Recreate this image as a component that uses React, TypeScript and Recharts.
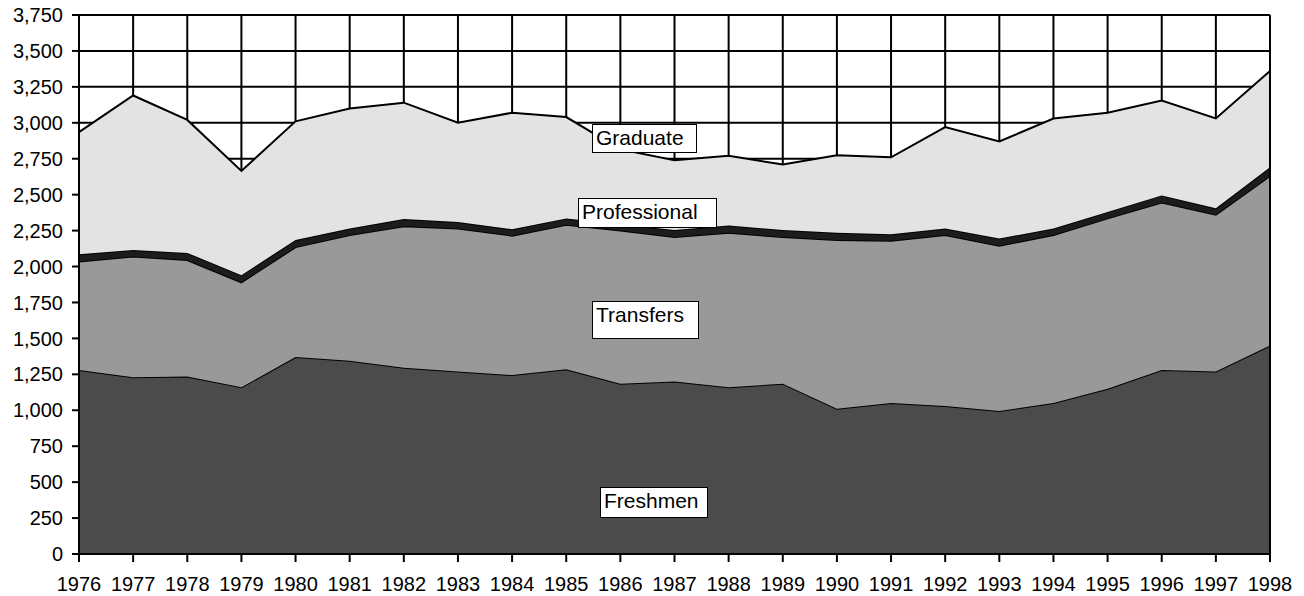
import {
  AreaChart,
  Area,
  XAxis,
  YAxis,
  CartesianGrid,
  ReferenceLine,
} from "recharts";

const years = [
  "1976", "1977", "1978", "1979", "1980", "1981", "1982", "1983",
  "1984", "1985", "1986", "1987", "1988", "1989", "1990", "1991",
  "1992", "1993", "1994", "1995", "1996", "1997", "1998",
];

const freshmen = [
  1280, 1230, 1235, 1160, 1370, 1345, 1295, 1270, 1245, 1285, 1185, 1200,
  1160, 1185, 1010, 1050, 1030, 995, 1050, 1150, 1280, 1270, 1450,
];
const transfers = [
  755, 840, 810, 730, 765, 875, 985, 995, 970, 1005, 1065, 1005, 1075, 1020,
  1175, 1130, 1190, 1150, 1170, 1185, 1165, 1090, 1180,
];
const professional = [
  50, 45, 50, 50, 50, 45, 50, 45, 45, 45, 45, 50, 50, 50, 50, 45, 45, 50, 45,
  45, 50, 45, 60,
];
const graduate = [
  850, 1075, 925, 725, 825, 835, 810, 690, 810, 705, 520, 485, 485, 455, 540,
  535, 705, 675, 765, 690, 660, 625, 670,
];

const yTicks = [
  0, 250, 500, 750, 1000, 1250, 1500, 1750, 2000, 2250, 2500, 2750, 3000,
  3250, 3500, 3750,
];

const series = [
  { key: "Freshmen", color: "#4b4b4b" },
  { key: "Transfers", color: "#999999" },
  { key: "Professional", color: "#1c1c1c" },
  { key: "Graduate", color: "#e3e3e3" },
];

const labels = [
  { text: "Graduate", left: 592, top: 124, width: 105, height: 29 },
  { text: "Professional", left: 578, top: 198, width: 139, height: 30 },
  { text: "Transfers", left: 592, top: 301, width: 107, height: 38 },
  { text: "Freshmen", left: 600, top: 487, width: 108, height: 31 },
];

const data = years.map((year, i) => ({
  year,
  Freshmen: freshmen[i],
  Transfers: transfers[i],
  Professional: professional[i],
  Graduate: graduate[i],
}));

const font = "'Liberation Sans', Arial, sans-serif";

export default function App() {
  return (
    <div
      style={{
        position: "absolute",
        left: 0,
        top: 0,
        width: 1304,
        height: 596,
        background: "#fff",
        fontFamily: font,
      }}
    >
      <AreaChart
        width={1304}
        height={596}
        data={data}
        margin={{ top: 15, right: 34, left: 0, bottom: 0 }}
      >
        <CartesianGrid stroke="#000" strokeWidth={2} />
        <XAxis
          dataKey="year"
          interval={0}
          height={42}
          tickSize={8}
          tickMargin={15}
          axisLine={{ stroke: "#000", strokeWidth: 2 }}
          tickLine={{ stroke: "#000", strokeWidth: 2 }}
          tick={{ fill: "#000", fontSize: 20, fontFamily: font }}
        />
        <YAxis
          width={79}
          domain={[0, 3750]}
          ticks={yTicks}
          interval={0}
          tickSize={7}
          tickMargin={9}
          axisLine={{ stroke: "#000", strokeWidth: 2 }}
          tickLine={{ stroke: "#000", strokeWidth: 2 }}
          tick={{ fill: "#000", fontSize: 20, fontFamily: font }}
          tickFormatter={(v: number) => v.toLocaleString("en-US")}
        />
        {series.map((s) => (
          <Area
            key={s.key}
            type="linear"
            dataKey={s.key}
            stackId="1"
            fill={s.color}
            fillOpacity={1}
            stroke="#000"
            strokeWidth={2}
            isAnimationActive={false}
          />
        ))}
        <ReferenceLine x="1998" stroke="#000" strokeWidth={2} />
        <ReferenceLine y={3750} stroke="#000" strokeWidth={2} />
      </AreaChart>
      {labels.map((l) => (
        <div
          key={l.text}
          style={{
            position: "absolute",
            left: l.left,
            top: l.top,
            width: l.width,
            height: l.height,
            boxSizing: "border-box",
            border: "1.5px solid #000",
            background: "#fff",
            fontSize: 21,
            lineHeight: "24px",
            paddingLeft: 3,
            paddingTop: 1,
            color: "#000",
            whiteSpace: "nowrap",
          }}
        >
          {l.text}
        </div>
      ))}
    </div>
  );
}
